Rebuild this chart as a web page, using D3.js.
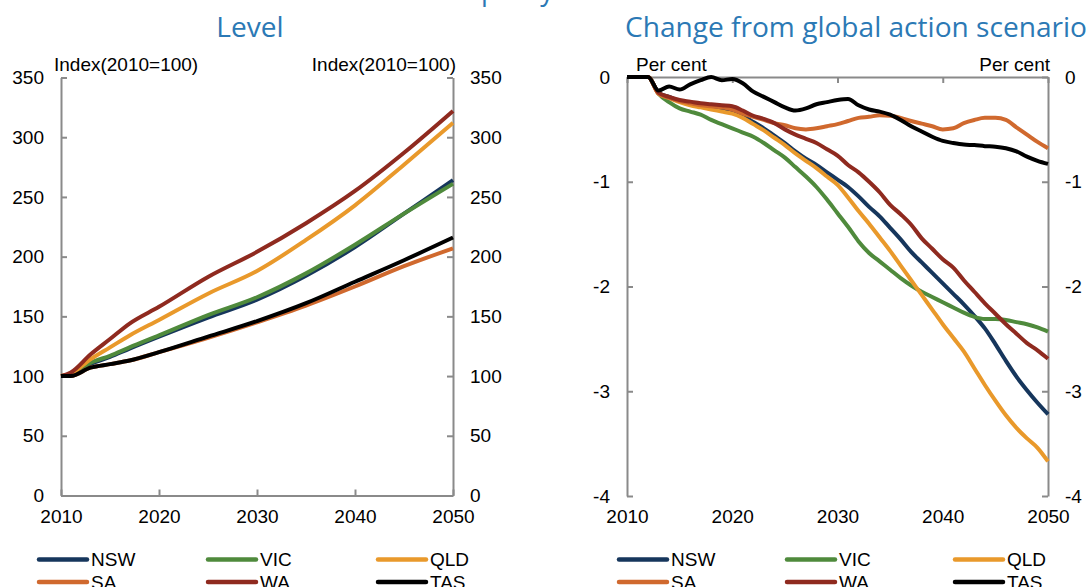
<!DOCTYPE html>
<html><head><meta charset="utf-8">
<script src="https://cdn.jsdelivr.net/npm/d3@7"></script>
<style>
body{margin:0;background:#fff}
svg{display:block}
text{font-family:"Liberation Sans",Arial,sans-serif;fill:#000}
</style>
</head><body>
<svg id="chart" width="1089" height="587"></svg>
<script>
// ---------------- data ----------------
const states = ["NSW", "VIC", "QLD", "SA", "WA", "TAS"];
const stateColors = ["#16365c", "#4f8a3c", "#e9992b", "#d0692e", "#8f2a1f", "#000000"];

const yearTicks = [2010, 2020, 2030, 2040, 2050];
const levelTicks = [0, 50, 100, 150, 200, 250, 300, 350];
const changeTicks = [-4, -3, -2, -1, 0];

// Level panel: index 2010 = 100
const levelYears = [2010, 2011, 2013, 2015, 2017, 2020, 2025, 2030, 2035, 2040, 2045, 2050];
const levelNSW = [100, 101, 110, 116, 123, 133, 149, 164, 184, 208, 236, 264];
const levelVIC = [100, 101, 111, 117, 124, 134, 151, 166, 186, 210, 236, 261];
const levelQLD = [100, 102, 114, 124, 134, 147, 169, 188, 214, 243, 277, 312];
const levelSA  = [100, 100, 107, 110, 113, 120, 132, 145, 159, 175, 192, 207];
const levelWA  = [100, 103, 118, 131, 144, 158, 183, 204, 228, 255, 287, 322];
const levelTAS = [100, 100, 107, 110, 113, 120, 133, 146, 161, 179, 197, 216];

// Change panel: per cent deviation from global action scenario
const changeYears = [2010,2011,2012,2013,2014,2015,2016,2017,2018,2019,2020,2021,2022,2023,2024,2025,2026,2027,2028,2029,2030,
                     2031,2032,2033,2034,2035,2036,2037,2038,2039,2040,2041,2042,2043,2044,2045,2046,2047,2048,2049,2050];
const changeNSW = [0,0,0,-0.15,-0.19,-0.23,-0.25,-0.27,-0.29,-0.31,-0.33,-0.37,-0.43,-0.49,-0.56,-0.63,-0.71,-0.78,-0.84,-0.91,-0.98,
                   -1.05,-1.14,-1.24,-1.33,-1.44,-1.55,-1.67,-1.77,-1.87,-1.97,-2.07,-2.17,-2.28,-2.40,-2.55,-2.71,-2.86,-2.99,-3.11,-3.22];
const changeVIC = [0,0,0,-0.16,-0.24,-0.30,-0.33,-0.36,-0.41,-0.45,-0.49,-0.53,-0.57,-0.63,-0.70,-0.77,-0.86,-0.95,-1.05,-1.17,-1.30,
                   -1.43,-1.57,-1.68,-1.76,-1.84,-1.92,-1.99,-2.05,-2.10,-2.15,-2.20,-2.25,-2.29,-2.31,-2.31,-2.32,-2.34,-2.36,-2.39,-2.43];
const changeQLD = [0,0,0,-0.16,-0.20,-0.24,-0.27,-0.29,-0.31,-0.33,-0.35,-0.39,-0.45,-0.51,-0.58,-0.65,-0.73,-0.80,-0.87,-0.95,-1.03,
                   -1.15,-1.28,-1.40,-1.53,-1.66,-1.80,-1.94,-2.08,-2.22,-2.36,-2.49,-2.62,-2.78,-2.94,-3.09,-3.23,-3.35,-3.45,-3.54,-3.67];
const changeSA  = [0,0,0,-0.16,-0.20,-0.23,-0.25,-0.27,-0.28,-0.29,-0.31,-0.35,-0.38,-0.41,-0.44,-0.46,-0.49,-0.50,-0.49,-0.47,-0.45,
                   -0.42,-0.39,-0.38,-0.365,-0.37,-0.39,-0.42,-0.445,-0.47,-0.50,-0.49,-0.44,-0.41,-0.39,-0.39,-0.41,-0.48,-0.55,-0.62,-0.68];
const changeWA  = [0,0,0,-0.15,-0.19,-0.22,-0.235,-0.25,-0.26,-0.27,-0.28,-0.32,-0.37,-0.40,-0.44,-0.50,-0.55,-0.59,-0.63,-0.69,-0.75,
                   -0.84,-0.91,-1.00,-1.10,-1.22,-1.31,-1.41,-1.54,-1.64,-1.74,-1.82,-1.94,-2.05,-2.16,-2.26,-2.36,-2.45,-2.54,-2.61,-2.69];
const changeTAS = [0,0,0,-0.13,-0.09,-0.12,-0.07,-0.03,0,-0.03,-0.02,-0.06,-0.14,-0.19,-0.24,-0.29,-0.32,-0.30,-0.26,-0.24,-0.22,
                   -0.21,-0.27,-0.31,-0.33,-0.36,-0.41,-0.47,-0.52,-0.57,-0.61,-0.63,-0.645,-0.65,-0.66,-0.665,-0.68,-0.71,-0.76,-0.80,-0.83];

const levelSeries  = [levelNSW, levelVIC, levelQLD, levelSA, levelWA, levelTAS];
const changeSeries = [changeNSW, changeVIC, changeQLD, changeSA, changeWA, changeTAS];

// ---------------- drawing ----------------
const svg = d3.select("#chart");
const AX = "#8a8a8a";
const FS = 19;
const titleColor = "#2b79b5";
const fmtInt = d => String(d);   // plain hyphen-minus, no decimals

// cut-off main heading at the very top (only descenders visible in the original)
svg.append("text").attr("x", 481).attr("y", 0)
  .style("font-family", "'Open Sans', sans-serif").style("font-size", "27px").style("fill", titleColor)
  .text("policy");

// panel titles
const t2 = svg.append("text").attr("x", 625).attr("y", 37)
  .style("font-family", "'Open Sans', sans-serif").style("font-size", "26px").style("fill", titleColor)
  .text("Change from global action scenario");
const w2 = t2.node().getComputedTextLength();
const tfs = 26 * 462 / w2;
t2.style("font-size", tfs + "px");
svg.append("text").attr("x", 250).attr("y", 37).attr("text-anchor", "middle")
  .style("font-family", "'Open Sans', sans-serif").style("font-size", tfs + "px").style("fill", titleColor)
  .text("Level");

function styleAxis(g) {
  g.selectAll("path.domain").attr("stroke", AX).attr("stroke-width", 2);
  g.selectAll(".tick line").attr("stroke", AX).attr("stroke-width", 2);
  g.selectAll("text").style("font-size", FS + "px").attr("fill", "#000")
    .style("font-family", "'Liberation Sans', Arial, sans-serif");
}

const lineGen = (x, y, years) => d3.line()
  .x((d, i) => x(years[i])).y(d => y(d)).curve(d3.curveMonotoneX);

// ----- Left panel: Level -----
const xL = d3.scaleLinear().domain([2010, 2050]).range([61, 453]);
const yL = d3.scaleLinear().domain([0, 350]).range([495.5, 77.5]);

svg.append("g").attr("transform", "translate(61,0)")
  .call(d3.axisLeft(yL).tickValues(levelTicks).tickFormat(fmtInt).tickSize(-6).tickSizeOuter(0).tickPadding(17))
  .call(styleAxis);
svg.append("g").attr("transform", "translate(453,0)")
  .call(d3.axisRight(yL).tickValues(levelTicks).tickFormat(fmtInt).tickSize(-6).tickSizeOuter(0).tickPadding(17))
  .call(styleAxis);
svg.append("g").attr("transform", "translate(0,495.5)")
  .call(d3.axisBottom(xL).tickValues(yearTicks).tickFormat(fmtInt).tickSize(-6).tickSizeOuter(0).tickPadding(14))
  .call(styleAxis);

svg.append("text").attr("x", 54).attr("y", 71).style("font-size", FS + "px").text("Index(2010=100)");
svg.append("text").attr("x", 456).attr("y", 71).attr("text-anchor", "end").style("font-size", FS + "px").text("Index(2010=100)");

const gL = svg.append("g");
levelSeries.forEach((s, i) => {
  gL.append("path").datum(s).attr("fill", "none").attr("stroke", stateColors[i])
    .attr("stroke-width", 4).attr("stroke-linejoin", "round")
    .attr("d", lineGen(xL, yL, levelYears));
});

// ----- Right panel: Change -----
const xR = d3.scaleLinear().domain([2010, 2050]).range([627, 1048]);
const yR = d3.scaleLinear().domain([-4, 0]).range([496, 77]);

svg.append("g").attr("transform", "translate(627,0)")
  .call(d3.axisLeft(yR).tickValues(changeTicks).tickFormat(fmtInt).tickSize(-6).tickSizeOuter(0).tickPadding(17))
  .call(styleAxis);
svg.append("g").attr("transform", "translate(1048,0)")
  .call(d3.axisRight(yR).tickValues(changeTicks).tickFormat(fmtInt).tickSize(-6).tickSizeOuter(0).tickPadding(17))
  .call(styleAxis);
// zero line with ticks pointing down
svg.append("g").attr("transform", "translate(0," + yR(0) + ")")
  .call(d3.axisBottom(xR).tickValues(yearTicks).tickFormat("").tickSize(6).tickSizeOuter(0))
  .call(styleAxis);
// year labels under the panel
const xlab = svg.append("g").attr("transform", "translate(0,495.5)")
  .call(d3.axisBottom(xR).tickValues(yearTicks).tickFormat(fmtInt).tickSize(0).tickSizeOuter(0).tickPadding(14.5))
  .call(styleAxis);
xlab.select("path.domain").remove();

svg.append("text").attr("x", 636).attr("y", 71).style("font-size", FS + "px").text("Per cent");
svg.append("text").attr("x", 1050).attr("y", 71).attr("text-anchor", "end").style("font-size", FS + "px").text("Per cent");

const gR = svg.append("g");
changeSeries.forEach((s, i) => {
  gR.append("path").datum(s).attr("fill", "none").attr("stroke", stateColors[i])
    .attr("stroke-width", 4).attr("stroke-linejoin", "round")
    .attr("d", lineGen(xR, yR, changeYears));
});

// ----- Legends -----
function legend(cols) {
  states.forEach((name, i) => {
    const c = i % 3, r = Math.floor(i / 3);
    const x0 = cols[c], y0 = 559.5 + r * 22.5;
    svg.append("line").attr("x1", x0).attr("x2", x0 + 48).attr("y1", y0).attr("y2", y0)
      .attr("stroke", stateColors[i]).attr("stroke-width", 4.5).attr("stroke-linecap", "round");
    svg.append("text").attr("x", x0 + 52).attr("y", y0 + 6.8).style("font-size", FS + "px").text(name);
  });
}
legend([39, 208, 378]);
legend([619, 787, 955]);
</script>
</body></html>
